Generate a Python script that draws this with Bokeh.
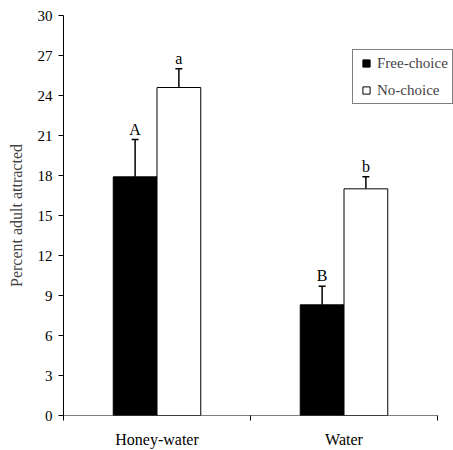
from bokeh.plotting import figure
from bokeh.models import (ColumnDataSource, FixedTicker, Whisker, TeeHead, Legend, LegendItem, Range1d)
from bokeh.core.properties import value
from bokeh.embed import file_html
from bokeh.resources import INLINE

categories = ["Honey-water", "Water"]
free_choice = [17.9, 8.3]
no_choice = [24.6, 17.0]
free_err = [2.8, 1.4]
no_err = [1.4, 0.9]
free_letters = ["A", "B"]
no_letters = ["a", "b"]
series_names = ["Free-choice", "No-choice"]
y_ticks = [0, 3, 6, 9, 12, 15, 18, 21, 24, 27, 30]

FONT = "Liberation Serif"
n = len(categories)
centers = [i + 0.5 for i in range(n)]
off = 0.117
bw = 0.234
x_end = n * 390 / 374  # frame extends past the last category so the legend fits

p = figure(width=453, height=450, output_backend="svg", toolbar_location=None,
           x_range=Range1d(0, x_end), y_range=Range1d(0, 30),
           min_border_left=63, min_border_right=0, min_border_top=15, min_border_bottom=35)
p.outline_line_color = None
p.xgrid.visible = False
p.ygrid.visible = False

src_f = ColumnDataSource(dict(x=[c - off for c in centers], top=free_choice,
                              up=[v + e for v, e in zip(free_choice, free_err)], lab=free_letters))
src_n = ColumnDataSource(dict(x=[c + off for c in centers], top=no_choice,
                              up=[v + e for v, e in zip(no_choice, no_err)], lab=no_letters))

for src in (src_f, src_n):
    w = Whisker(source=src, base="x", upper="up", lower="top", dimension="height",
                line_color="black", line_width=1.5,
                upper_head=TeeHead(size=7, line_color="black", line_width=1.5), lower_head=None)
    p.add_layout(w)

p.vbar(x="x", top="top", width=bw, source=src_f, fill_color="black", line_color="black", line_width=1)
p.vbar(x="x", top="top", width=bw, source=src_n, fill_color="white", line_color="black", line_width=1)

# baseline (x axis line) only over the category span
p.segment(x0=[0], y0=[0], x1=[n], y1=[0], line_color="black", line_width=1)

for src in (src_f, src_n):
    p.text(x="x", y="up", text="lab", source=src, text_align="center", text_baseline="bottom",
           y_offset=-2, text_font=value(FONT), text_font_size="16px", text_color="black")

# legend proxies (placed outside the visible range)
lf = p.scatter(x=[-10], y=[-10], marker="square", size=7, fill_color="black", line_color="black")
ln = p.scatter(x=[-10], y=[-10], marker="square", size=7, fill_color="white", line_color="black")

# axes
p.yaxis.ticker = FixedTicker(ticks=y_ticks)
p.yaxis.axis_label = "Percent adult attracted"
p.yaxis.axis_label_text_font = FONT
p.yaxis.axis_label_text_font_style = "normal"
p.yaxis.axis_label_text_font_size = "16px"
p.yaxis.axis_label_standoff = 10
p.yaxis.major_label_text_font = FONT
p.yaxis.major_label_text_font_size = "15px"
p.yaxis.major_tick_out = 5
p.yaxis.major_tick_in = 0
p.yaxis.minor_tick_line_color = None
p.yaxis.major_label_standoff = 6
p.yaxis.axis_line_color = "black"

p.xaxis.ticker = FixedTicker(ticks=centers, minor_ticks=list(range(n + 1)))
p.xaxis.major_label_overrides = {c: name for c, name in zip(centers, categories)}
p.xaxis.major_tick_line_color = None
p.xaxis.major_tick_out = 0
p.xaxis.major_tick_in = 0
p.xaxis.minor_tick_out = 5
p.xaxis.minor_tick_in = 0
p.xaxis.minor_tick_line_color = "black"
p.xaxis.axis_line_color = None
p.xaxis.major_label_standoff = 10
p.xaxis.major_label_text_font = FONT
p.xaxis.major_label_text_font_size = "16px"

for ax in (p.xaxis, p.yaxis):
    ax.major_label_text_color = "black"

legend = Legend(items=[LegendItem(label=series_names[0], renderers=[lf]),
                       LegendItem(label=series_names[1], renderers=[ln])],
                location=(289, 311), border_line_color="black", border_line_width=1,
                label_text_font=FONT, label_text_font_size="15px",
                glyph_width=18, glyph_height=18, label_height=18, spacing=9,
                padding=4, margin=0, label_standoff=2, background_fill_alpha=1)
p.add_layout(legend)

open("out.html", "w").write(file_html(p, INLINE))
